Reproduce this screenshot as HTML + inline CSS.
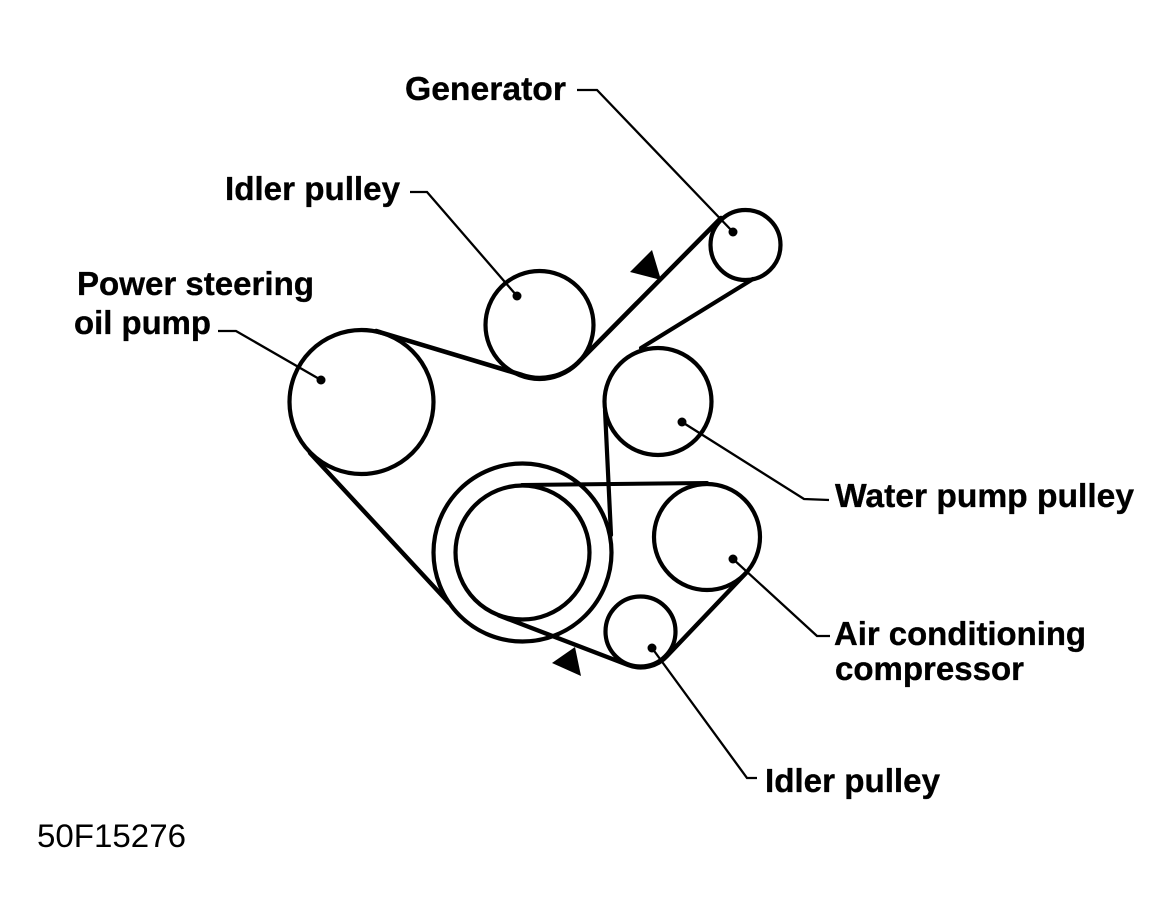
<!DOCTYPE html>
<html>
<head>
<meta charset="utf-8">
<style>
html,body{margin:0;padding:0;background:#fff;}
svg{display:block;}
text{font-family:"Liberation Sans",Arial,sans-serif;fill:#000;}
.l{font-size:33px;font-weight:bold;stroke:#000;stroke-width:.35px;}
</style>
</head>
<body>
<svg width="1171" height="923" viewBox="0 0 1171 923" xmlns="http://www.w3.org/2000/svg">
<rect width="1171" height="923" fill="#fff"/>
<g fill="none" stroke="#000" stroke-width="4.2" stroke-linecap="round">
  <circle cx="361.5" cy="402" r="72"/>
  <circle cx="539.5" cy="325" r="54"/>
  <circle cx="745.5" cy="245" r="35"/>
  <circle cx="658" cy="401.5" r="53.5"/>
  <circle cx="707" cy="537" r="53"/>
  <circle cx="640.5" cy="631.5" r="35"/>
  <circle cx="522.5" cy="552.5" r="89"/>
  <circle cx="522.5" cy="552.5" r="67"/>
  <!-- belt -->
  <path d="M376 331 L522 375 A55 55 0 0 0 578 362.6 L721 218" stroke-width="4.6"/>
  <path d="M753 279 L641 348" stroke-width="4.2"/>
  <path d="M605 410 L611 535" stroke-width="4.2"/>
  <path d="M522 485 L707 483" stroke-width="4"/>
  <path d="M747 572 L667.5 655.5 A36 36 0 0 1 628 665 L499 615.5" stroke-width="4.4"/>
  <path d="M310 453 L449 603" stroke-width="4.4"/>
</g>
<g fill="none" stroke="#000" stroke-width="2.3">
  <path d="M577 90 L597 90 L733 232"/>
  <path d="M410 192 L427 192 L517 296"/>
  <path d="M218 331 L236 331 L321 380"/>
  <path d="M682 422 L804 499 L829 500"/>
  <path d="M733 559 L817 636 L830 636"/>
  <path d="M652 648 L747 778 L757 778"/>
</g>
<g fill="#000">
  <circle cx="733" cy="232" r="4.5"/>
  <circle cx="517" cy="296" r="4.5"/>
  <circle cx="321" cy="380" r="4.5"/>
  <circle cx="682" cy="422" r="4.5"/>
  <circle cx="733" cy="559" r="4.5"/>
  <circle cx="652" cy="648" r="4.5"/>
  <polygon points="630,272 652,250 661,280"/>
  <polygon points="552,663 575,647 581,676"/>
</g>
<text class="l" x="405" y="100" textLength="161" lengthAdjust="spacingAndGlyphs">Generator</text>
<text class="l" x="225" y="200" textLength="175" lengthAdjust="spacingAndGlyphs">Idler pulley</text>
<text class="l" x="77" y="295" textLength="237" lengthAdjust="spacingAndGlyphs">Power steering</text>
<text class="l" x="74" y="334" textLength="137" lengthAdjust="spacingAndGlyphs">oil pump</text>
<text class="l" x="835" y="507" textLength="299" lengthAdjust="spacingAndGlyphs">Water pump pulley</text>
<text class="l" x="834" y="645" textLength="252" lengthAdjust="spacingAndGlyphs">Air conditioning</text>
<text class="l" x="835" y="680" textLength="189" lengthAdjust="spacingAndGlyphs">compressor</text>
<text class="l" x="765" y="792" textLength="175" lengthAdjust="spacingAndGlyphs">Idler pulley</text>
<text x="37" y="847" font-size="32" textLength="149" lengthAdjust="spacingAndGlyphs">50F15276</text>
</svg>
</body>
</html>
